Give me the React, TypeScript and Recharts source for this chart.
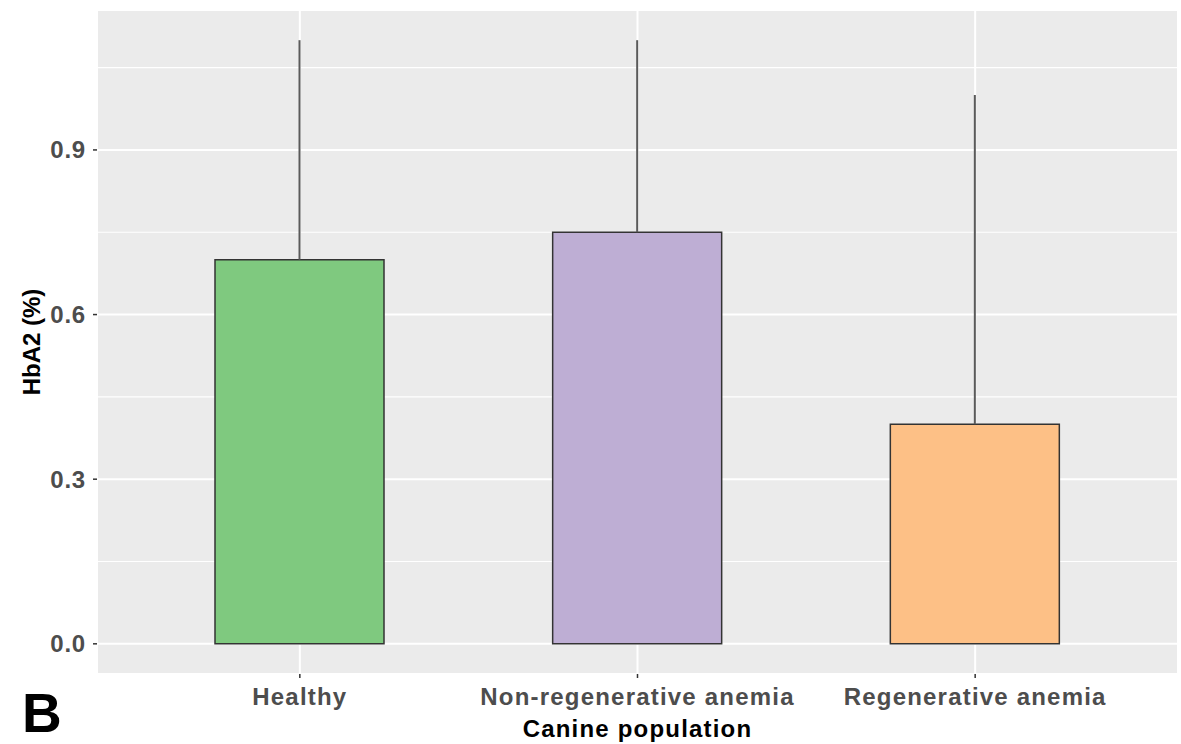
import React from 'react';
import { ComposedChart, Bar, XAxis, YAxis, CartesianGrid, ErrorBar, Cell } from 'recharts';

const categories = ['Healthy', 'Non-regenerative anemia', 'Regenerative anemia'];
const hba2Mean = [0.7, 0.75, 0.4];
const hba2Upper = [1.1, 1.1, 1.0];
const barColors = ['#7FC97F', '#BEAED4', '#FDC086'];
const yTicks = [0, 0.3, 0.6, 0.9];
const yMinor = [0.15, 0.45, 0.75, 1.05];

const data = categories.map((name, i) => ({
  name,
  value: hba2Mean[i],
  err: [0, hba2Upper[i] - hba2Mean[i]],
}));

const font = '"Liberation Sans", Arial, sans-serif';

export default function App() {
  return (
    <div style={{ position: 'absolute', left: 0, top: 0, width: 1181, height: 744, background: '#fff', fontFamily: font }}>
      <ComposedChart
        width={1181}
        height={744}
        data={data}
        margin={{ top: 10, right: 3, left: 0, bottom: 0 }}
        barCategoryGap={0}
      >
        <CartesianGrid fill="#EBEBEB" stroke="#FFFFFF" strokeWidth={2} />
        <CartesianGrid stroke="#FFFFFF" strokeWidth={1.2} vertical={false} horizontalValues={yMinor} />
        <XAxis
          dataKey="name"
          height={70}
          padding={{ left: 34, right: 34 }}
          axisLine={false}
          tickSize={4}
          tickMargin={10}
          tickLine={{ stroke: '#333333', strokeWidth: 1.5 }}
          tick={{ fill: '#4D4D4D', fontSize: 24, fontWeight: 'bold', fontFamily: font, letterSpacing: 1.2 }}
          interval={0}
          label={{
            value: 'Canine population',
            position: 'insideBottom',
            offset: 7,
            fill: '#000',
            fontSize: 24,
            fontWeight: 'bold',
            fontFamily: font,
            letterSpacing: 1.2,
          }}
        />
        <YAxis
          type="number"
          width={97}
          domain={[-0.055, 1.155]}
          ticks={yTicks}
          allowDataOverflow
          axisLine={false}
          tickSize={4}
          tickMargin={7}
          tickLine={{ stroke: '#333333', strokeWidth: 1.5 }}
          tickFormatter={(v: number) => v.toFixed(1)}
          tick={{ fill: '#4D4D4D', fontSize: 24, fontWeight: 'bold', fontFamily: font, letterSpacing: 0.8 }}
          label={{
            content: () => (
              <text
                x={31}
                y={342}
                transform="rotate(-90 31 342)"
                textAnchor="middle"
                dominantBaseline="central"
                fill="#000"
                fontSize={24}
                fontWeight="bold"
                fontFamily={font}
              >
                HbA2 (%)
              </text>
            ),
          }}
        />
        <Bar dataKey="value" barSize={169} stroke="#333333" strokeWidth={1.5} isAnimationActive={false}>
          {data.map((d, i) => (
            <Cell key={d.name} fill={barColors[i]} />
          ))}
          <ErrorBar dataKey="err" direction="y" width={0} stroke="#5A5A5A" strokeWidth={2} isAnimationActive={false} />
        </Bar>
      </ComposedChart>
      <svg width={80} height={80} style={{ position: 'absolute', left: 0, top: 664 }}>
        <text x={22} y={68} fontSize={55} fontWeight="bold" fill="#000" fontFamily={font}>
          B
        </text>
      </svg>
    </div>
  );
}
